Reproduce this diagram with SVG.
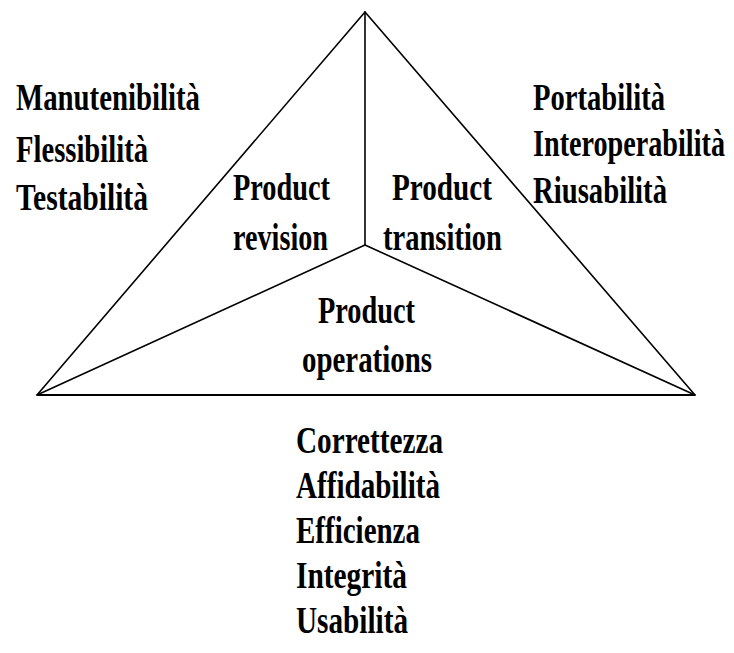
<svg xmlns="http://www.w3.org/2000/svg" width="734" height="653" viewBox="0 0 734 653">
  <style>
    .lbl { font-family: "Liberation Serif", "Times New Roman", serif; font-weight: bold; font-size: 38px; fill: #000; }
    .edge { stroke: #000; stroke-width: 1.6; fill: none; stroke-linecap: round; }
    .base { stroke: #000; stroke-width: 2.2; fill: none; }
  </style>
  <rect width="734" height="653" fill="#fff"/>

  <!-- triangle outline and inner dividers -->
  <g id="connectors">
    <line class="edge" x1="365" y1="12" x2="37" y2="395"/>
    <line class="edge" x1="365" y1="12" x2="695" y2="395"/>
    <line class="base" x1="37" y1="395" x2="695" y2="395"/>
    <line class="edge" x1="365" y1="12" x2="365" y2="245"/>
    <line class="edge" x1="365" y1="245" x2="37" y2="395"/>
    <line class="edge" x1="365" y1="245" x2="695" y2="395"/>
  </g>

  <g id="revision-qualities">
    <text class="lbl" x="16" y="110" textLength="184" lengthAdjust="spacingAndGlyphs">Manutenibilità</text>
    <text class="lbl" x="16" y="162" textLength="132" lengthAdjust="spacingAndGlyphs">Flessibilità</text>
    <text class="lbl" x="16" y="210" textLength="132" lengthAdjust="spacingAndGlyphs">Testabilità</text>
  </g>

  <g id="transition-qualities">
    <text class="lbl" x="533" y="110" textLength="132" lengthAdjust="spacingAndGlyphs">Portabilità</text>
    <text class="lbl" x="533" y="156" textLength="192" lengthAdjust="spacingAndGlyphs">Interoperabilità</text>
    <text class="lbl" x="533" y="203" textLength="134" lengthAdjust="spacingAndGlyphs">Riusabilità</text>
  </g>

  <g id="product-revision">
    <text class="lbl" x="233" y="200" textLength="97" lengthAdjust="spacingAndGlyphs">Product</text>
    <text class="lbl" x="233" y="250" textLength="95" lengthAdjust="spacingAndGlyphs">revision</text>
  </g>

  <g id="product-transition">
    <text class="lbl" x="392" y="200" textLength="100" lengthAdjust="spacingAndGlyphs">Product</text>
    <text class="lbl" x="383" y="250" textLength="119" lengthAdjust="spacingAndGlyphs">transition</text>
  </g>

  <g id="product-operations">
    <text class="lbl" x="318" y="323" textLength="97" lengthAdjust="spacingAndGlyphs">Product</text>
    <text class="lbl" x="302" y="372" textLength="130" lengthAdjust="spacingAndGlyphs">operations</text>
  </g>

  <g id="operations-qualities">
    <text class="lbl" x="296" y="453" textLength="147" lengthAdjust="spacingAndGlyphs">Correttezza</text>
    <text class="lbl" x="296" y="498" textLength="144" lengthAdjust="spacingAndGlyphs">Affidabilità</text>
    <text class="lbl" x="296" y="543" textLength="124" lengthAdjust="spacingAndGlyphs">Efficienza</text>
    <text class="lbl" x="296" y="588" textLength="111" lengthAdjust="spacingAndGlyphs">Integrità</text>
    <text class="lbl" x="296" y="633" textLength="112" lengthAdjust="spacingAndGlyphs">Usabilità</text>
  </g>
</svg>
